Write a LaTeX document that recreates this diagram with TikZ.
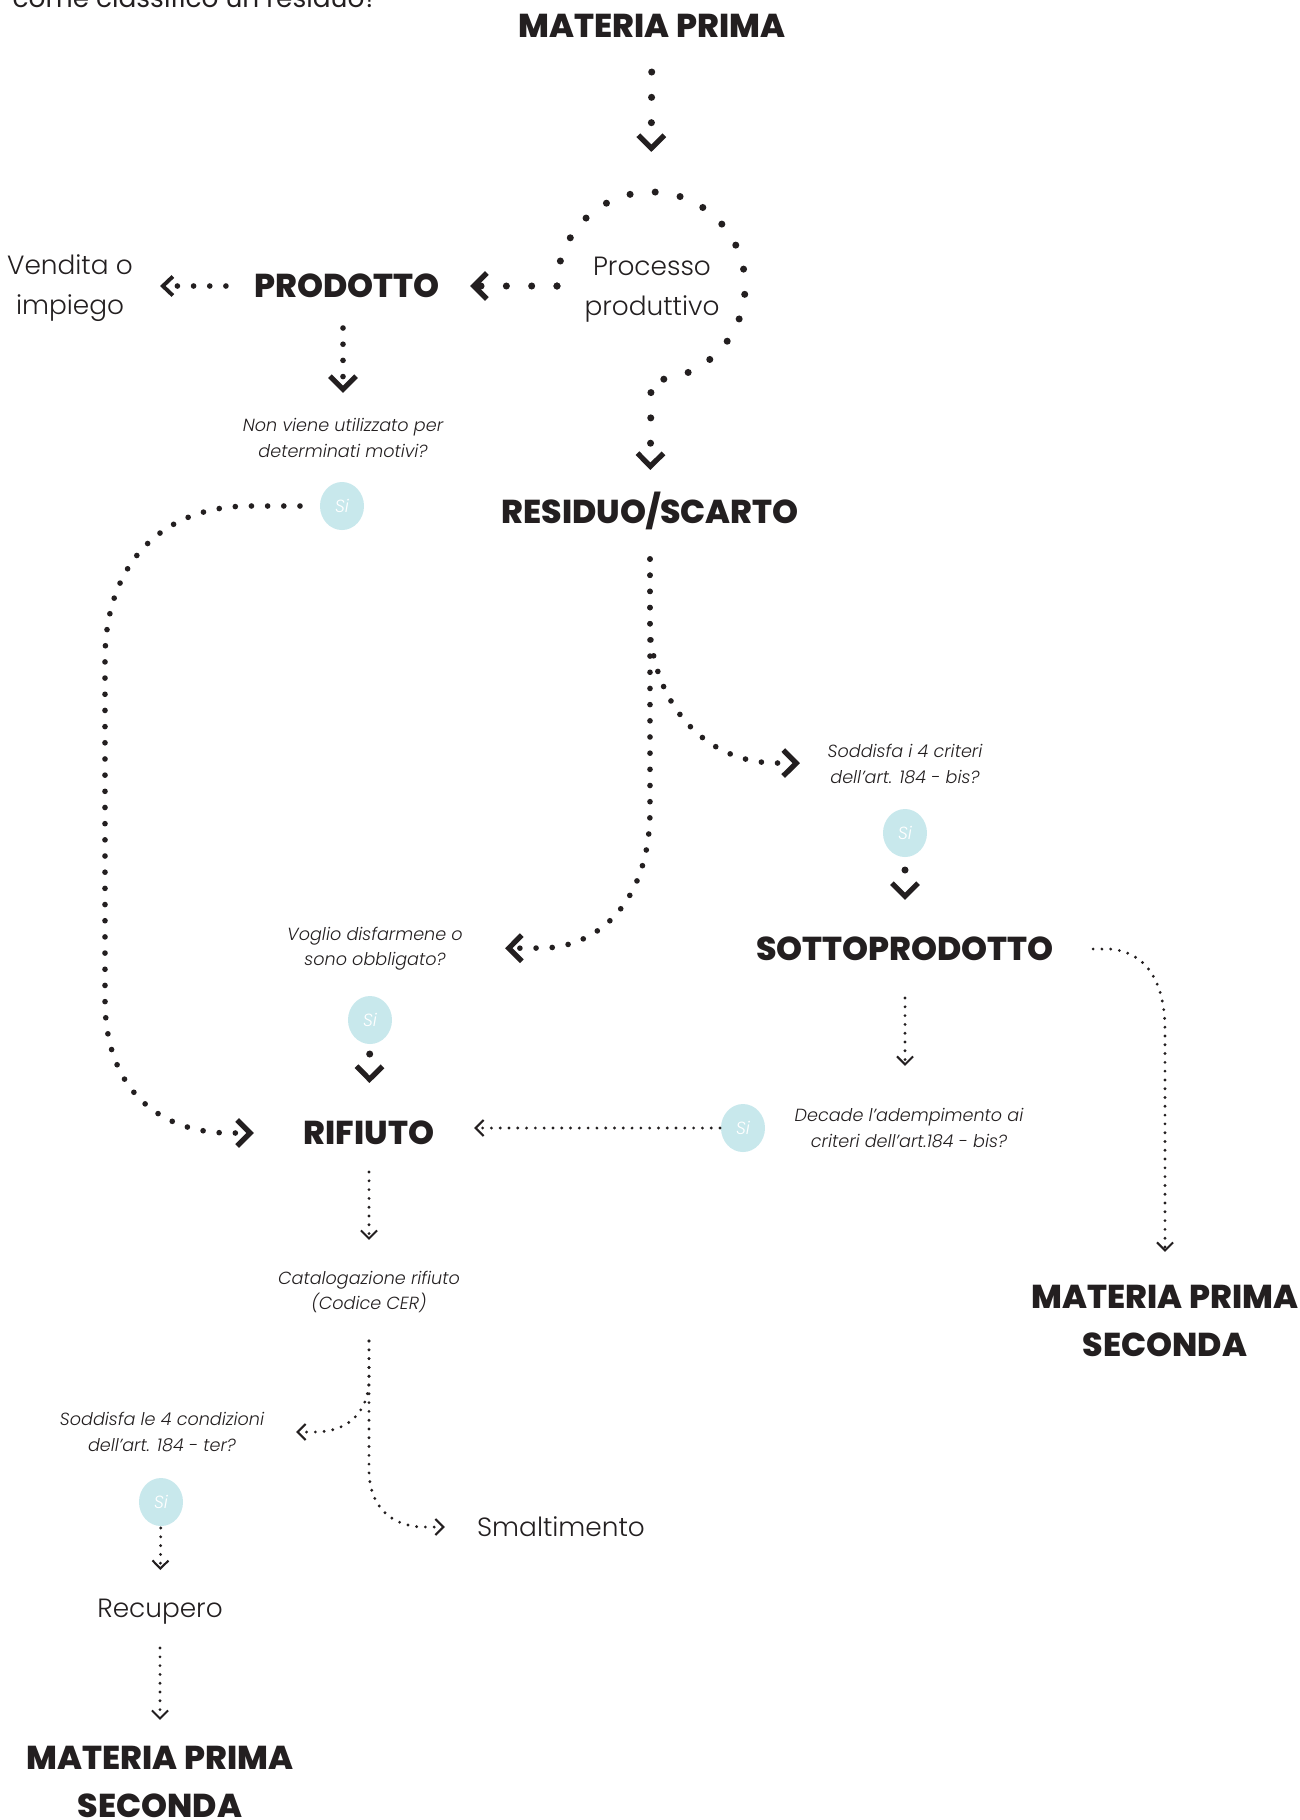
\documentclass[tikz,border=0pt]{standalone}
\usepackage{fontspec}
\setmainfont{Poppins}[BoldFont={* ExtraBold}]
\newfontfamily\lightfont{Poppins}[UprightFont={* Light},ItalicFont={* Light Italic}]
\usetikzlibrary{arrows.meta,shapes.geometric}
\definecolor{ink}{HTML}{231F20}
\definecolor{siblue}{RGB}{200,232,236}

\begin{document}
\begin{tikzpicture}[x=0.01cm,y=-0.01cm,
  heavy/.style={font=\fontsize{9.4}{13.7}\selectfont\bfseries,text=ink,align=center,inner sep=0pt},
  light/.style={font=\lightfont\fontsize{7.5}{11.3}\selectfont,text=ink,align=center,inner sep=0pt},
  quest/.style={font=\lightfont\itshape\fontsize{5}{7.2}\selectfont,text=ink,align=center,inner sep=0pt},
  yes/.style={ellipse,fill=siblue,minimum width=4.4mm,minimum height=4.8mm,inner sep=0pt,text=white,font=\lightfont\itshape\fontsize{5}{6}\selectfont},
  bigflow/.style={draw=ink,line width=2pt,line cap=round,dash pattern=on 0pt off 7.2pt,-{Straight Barb[length=1.3mm,width=2.6mm,line width=1.5pt]}},
  midflow/.style={draw=ink,line width=1.6pt,line cap=round,dash pattern=on 0pt off 4.6pt,-{Straight Barb[length=1.3mm,width=2.6mm,line width=1.5pt]}},
  thinflow/.style={draw=ink,line width=0.9pt,line cap=round,dash pattern=on 0pt off 2.5pt,-{Straight Barb[length=0.8mm,width=1.6mm,line width=0.6pt]}}]
  \useasboundingbox (0,0) rectangle (1300,1820);

  \node[font=\fontsize{7.5}{9}\selectfont,text=ink,inner sep=0pt,anchor=base west] (intro) at (12,7) {come classifico un residuo?};

  \node[heavy] (mp1) at (652,26) {MATERIA PRIMA};
  \node[light] (processo) at (652,290) {Processo\\produttivo};
  \node[heavy] (prodotto) at (347,286) {PRODOTTO};
  \node[light] (vendita) at (70,288) {Vendita o\\impiego};
  \node[quest] (nonviene) at (343,438) {Non viene utilizzato per\\determinati motivi?};
  \node[yes] (si1) at (342,506) {Si};
  \node[heavy] (residuo) at (650,511) {RESIDUO/SCARTO};
  \node[quest] (soddisfa) at (905,764) {Soddisfa i 4 criteri\\dell’art. 184 - bis?};
  \node[yes] (si2) at (905,833) {Si};
  \node[heavy] (sotto) at (905,949) {SOTTOPRODOTTO};
  \node[quest] (voglio) at (375,949) {Voglio disfarmene o\\sono obbligato?};
  \node[yes] (si3) at (370,1020) {Si};
  \node[heavy] (rifiuto) at (369,1133) {RIFIUTO};
  \node[yes] (si4) at (743,1128) {Si};
  \node[quest] (decade) at (909,1128) {Decade l’adempimento ai\\criteri dell’art.184 - bis?};
  \node[heavy] (mps1) at (1165,1321) {MATERIA PRIMA\\SECONDA};
  \node[quest] (catalogo) at (369,1292) {Catalogazione rifiuto\\(Codice CER)};
  \node[quest] (condizioni) at (162,1432) {Soddisfa le 4 condizioni\\dell’art. 184 - ter?};
  \node[yes] (si5) at (161,1502) {Si};
  \node[light] (recupero) at (160,1612) {Recupero};
  \node[light] (smalt) at (561,1527) {Smaltimento};
  \node[heavy] (mps2) at (160,1782) {MATERIA PRIMA\\SECONDA};

  \coordinate (looptop) at (651,192);
  \coordinate (loopL) at (557,286);

  \draw[bigflow,shorten <=4.6mm,shorten >=4mm] (mp1.center) -- (looptop);
  \draw[bigflow,shorten >=4.1mm] (loopL) arc[start angle=180,end angle=-90,radius=0.94cm] -- (residuo.center);
  \draw[bigflow,shorten >=12.3mm] (loopL) -- (prodotto.center);
  \draw[midflow,-{Straight Barb[length=1mm,width=1.9mm,line width=1.1pt]},shorten <=12.1mm,shorten >=9mm] (prodotto.center) -- (vendita.center |- prodotto.center);
  \draw[midflow,shorten <=4.2mm,shorten >=4.5mm] (nonviene |- prodotto) -- (nonviene.center);
  \draw[midflow,shorten <=4.2mm,shorten >=11.5mm] (si1.center) -- (250,506) .. controls (165,506) and (105,560) .. (105,660) -- (105,1000) .. controls (105,1090) and (160,1133) .. (230,1133) -- (rifiuto.center);
  \draw[midflow,shorten <=4.8mm,shorten >=13mm] (residuo.center) -- (650,810) .. controls (650,900) and (600,946) .. (545,948) -- (voglio.center);
  \draw[midflow,shorten <=4.8mm,shorten >=10.5mm] (residuo.center) -- (650,630) .. controls (655,705) and (705,762) .. (775,763) -- (soddisfa.center);
  \draw[bigflow,shorten <=3.7mm,shorten >=4.9mm] (si2.center) -- (sotto.center);
  \draw[bigflow,shorten <=3.4mm,shorten >=5mm] (si3.center) -- (rifiuto.center);

  \draw[thinflow,shorten <=2.3mm,shorten >=10.5mm] (si4.center) -- (rifiuto.center |- si4.center);
  \draw[thinflow,shorten <=4.9mm,shorten >=6.2mm] (sotto.center) -- (sotto.center |- decade.center);
  \draw[thinflow,shorten <=18.8mm,shorten >=6.9mm] (sotto.center) -- (1110,949) .. controls (1145,952) and (1165,980) .. (1165,1030) -- (mps1.center);
  \draw[thinflow,shorten <=3.9mm,shorten >=5.2mm] (rifiuto.center) -- (catalogo.center);
  \draw[thinflow,shorten <=4.9mm,shorten >=13.4mm] (catalogo.center) -- (369,1378) .. controls (369,1415) and (345,1432) .. (315,1432) -- (condizioni.center);
  \draw[thinflow,shorten <=4.9mm,shorten >=11.6mm] (catalogo.center) -- (369,1470) .. controls (369,1505) and (390,1527) .. (425,1527) -- (smalt.center);
  \draw[thinflow,shorten <=2.6mm,shorten >=4.2mm] (si5.center) -- (recupero.center);
  \draw[thinflow,shorten <=3.6mm,shorten >=6.2mm] (recupero.center) -- (mps2.center);
\end{tikzpicture}
\end{document}
